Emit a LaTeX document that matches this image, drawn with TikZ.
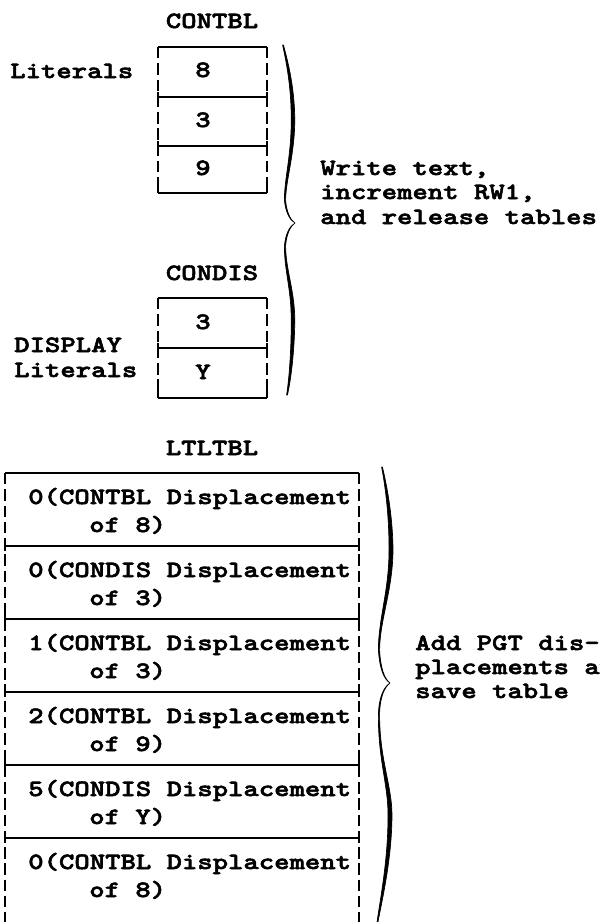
\documentclass[tikz,border=0pt]{standalone}
\usepackage{fontspec}
\newfontfamily\ibm[FakeStretch=1.255, FakeBold=2.4, Extension=.otf]{lmmonolt10-bold}
\begin{document}
\frenchspacing
\begin{tikzpicture}[x=0.75pt,y=-0.75pt,
  txt/.style={font=\ibm\fontsize{17.5}{20}\selectfont, inner sep=0pt, anchor=base west},
  ctxt/.style={txt, anchor=base},
  hline/.style={line width=1.7pt},
  vline/.style={line width=2.1pt, dash pattern=on 8.6pt off 3.6pt},
  tick/.style={line width=2.1pt},
  bracefill/.style={fill=black, draw=black, line width=0.5pt, line join=round}]
\useasboundingbox (0,0) rectangle (600,922);
\clip (0,0) rectangle (600,922);

% ---------------- CONTBL ----------------
\node[ctxt] (contbl) at (212,28) {CONTBL};
\node[txt] (lit1) at (10,78) {Literals};
\node[ctxt] (c8) at (203,77) {8};
\node[ctxt] (c3) at (203,127) {3};
\node[ctxt] (c9) at (203,175) {9};
\draw[vline] (158,47) -- (158,193);
\draw[vline] (267,47) -- (267,193);
\foreach \y in {47,97,146,193} {\draw[hline] (158,\y) -- (267,\y);}
\foreach \x in {158,267} {
  \draw[tick] (\x,47) -- (\x,54);
  \draw[tick] (\x,186) -- (\x,193);
  \foreach \y in {97,146} {\draw[tick] (\x,\y-5) -- (\x,\y+5);}
}

% ---------------- CONDIS ----------------
\node[ctxt] (condis) at (212,280) {CONDIS};
\node[txt] (disp) at (14,352) {DISPLAY};
\node[txt] (lit2) at (14,377) {Literals};
\node[ctxt] (d3) at (203,329) {3};
\node[ctxt] (dY) at (203,379) {Y};
\draw[vline] (158,298) -- (158,398);
\draw[vline] (267,298) -- (267,398);
\foreach \y in {298,348,398} {\draw[hline] (158,\y) -- (267,\y);}
\foreach \x in {158,267} {
  \draw[tick] (\x,298) -- (\x,305);
  \draw[tick] (\x,391) -- (\x,398);
  \draw[tick] (\x,343) -- (\x,353);
}

% ---------------- brace 1 ----------------
\fill[bracefill] (283.4,45) .. controls (289,65) and (294.6,90) .. (294.8,120)
  .. controls (294.6,155) and (285.8,180) .. (285.6,200)
  .. controls (286.5,212) and (290.4,220) .. (295,223)
  .. controls (290.4,226) and (286.5,234) .. (285.6,246)
  .. controls (285.8,270) and (294.6,290) .. (294.8,320)
  .. controls (294.6,350) and (291,380) .. (287.4,395)
  -- (286.6,395) .. controls (289,380) and (291.4,350) .. (291.2,320)
  .. controls (291.4,290) and (284.2,270) .. (284.4,246)
  .. controls (285.5,234) and (289.6,226) .. (295,223)
  .. controls (289.6,220) and (285.5,212) .. (284.4,200)
  .. controls (284.2,180) and (291.4,155) .. (291.2,120)
  .. controls (291.4,90) and (287,65) .. (282.6,45) -- cycle;
\node[txt] (w1) at (320,175) {Write text,};
\node[txt] (w2) at (320,199) {increment RW1,};
\node[txt] (w3) at (320,224) {and release tables};

% ---------------- LTLTBL ----------------
\node[ctxt] (ltltbl) at (212,455) {LTLTBL};
\draw[vline] (5,473) -- (5,940);
\draw[vline] (359,473) -- (359,940);
\draw[hline] (5,473) -- (359,473);
\foreach \x in {5,359} {\draw[tick] (\x,473) -- (\x,480);}
\foreach \k in {1,...,5} {
  \pgfmathsetmacro{\yy}{473+73*\k}
  \draw[hline] (5,\yy) -- (359,\yy);
  \draw[tick] (5,\yy-5) -- (5,\yy+5);
  \draw[tick] (359,\yy-5) -- (359,\yy+5);
}
\foreach \k/\a/\b/\c in {0/0/CONTBL/8, 1/0/CONDIS/3, 2/1/CONTBL/3, 3/2/CONTBL/9, 4/5/CONDIS/Y, 5/0/CONTBL/8} {
  \pgfmathsetmacro{\ya}{473+73*\k+31}
  \pgfmathsetmacro{\yb}{473+73*\k+59}
  \node[txt] (r\k a) at (28,\ya) {\a(\b\ Displacement};
  \node[txt] (r\k b) at (89,\yb) {of \c)};
}

% ---------------- brace 2 ----------------
\fill[bracefill] (382.4,467) .. controls (388,490) and (392.8,520) .. (393,550)
  .. controls (392.8,590) and (379.8,620) .. (379.6,650)
  .. controls (380.5,668) and (384.4,679) .. (390,683)
  .. controls (384.4,687) and (379.5,698) .. (379.6,716)
  .. controls (379.8,760) and (391.8,785) .. (392,815)
  .. controls (391.8,860) and (382,900) .. (377.4,925)
  -- (376.6,925) .. controls (380,900) and (388.2,860) .. (388,815)
  .. controls (388.2,785) and (378.2,760) .. (378.4,716)
  .. controls (378.5,698) and (383.6,687) .. (390,683)
  .. controls (383.6,679) and (379.5,668) .. (378.4,650)
  .. controls (378.2,620) and (389.2,590) .. (389,550)
  .. controls (389.2,520) and (386,490) .. (381.6,467) -- cycle;
\node[txt] (p1) at (415,650) {Add PGT dis-};
\node[txt] (p2) at (415,674) {placements and};
\node[txt] (p3) at (415,698) {save table};
\end{tikzpicture}
\end{document}
